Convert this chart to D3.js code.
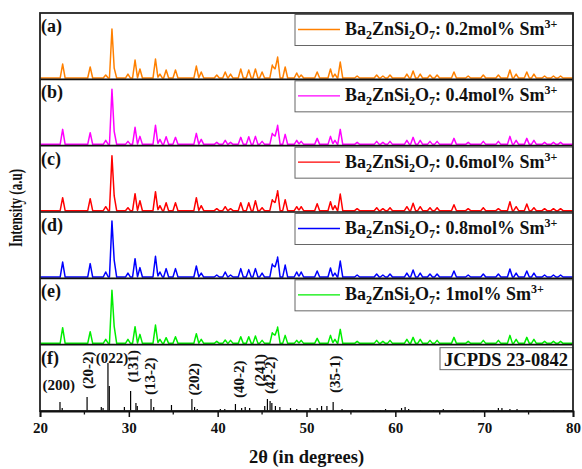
<!DOCTYPE html>
<html><head><meta charset="utf-8">
<script src="https://cdn.jsdelivr.net/npm/d3@7"></script>
<style>
html,body{margin:0;padding:0;background:#fff;}
svg{display:block;font-family:"Liberation Serif","Times New Roman",serif;font-weight:bold;}
</style></head>
<body>
<svg id="chart" width="582" height="469"></svg>
<script>
// ---------- data ----------
const xTicks = [20, 30, 40, 50, 60, 70, 80];
const xMinorTicks = [25, 35, 45, 55, 65, 75];
const panelLabels = ["(a)", "(b)", "(c)", "(d)", "(e)", "(f)"];
const seriesConc = ["0.2", "0.4", "0.6", "0.8", "1"];

const peakPos = [22.55, 25.65, 27.4, 28.1, 28.35, 29.9, 30.7, 31.25, 33.0, 33.5, 34.2, 35.25, 37.6, 38.15, 39.9, 40.85, 41.45, 42.6, 43.5, 44.25, 45.0, 46.15, 46.45, 46.75, 47.6, 48.9, 49.4, 51.2, 52.7, 53.2, 53.8, 55.7, 57.9, 58.6, 59.4, 61.3, 62.0, 62.8, 63.9, 64.7, 66.6, 68.2, 69.9, 71.6, 72.9, 73.6, 74.8, 75.6, 76.8, 77.8, 78.6];

const intensityA = [14, 11, 3, 49, 10, 4, 18, 9, 19, 4, 8, 8, 12, 6, 3, 6, 4, 9, 8, 9, 6, 13, 10, 21, 11, 5, 3, 6, 9, 4, 16, 2, 3, 2, 3, 4, 7, 4, 3, 3, 6, 2, 3, 3, 8, 4, 6, 4, 2, 2, 2];
const intensityB = [15, 11.6, 4, 55, 13, 3, 17, 8, 19, 5, 7.6, 7, 11, 5, 2, 4, 2, 7, 7.6, 8, 3, 11, 9, 19, 10, 4, 3, 6, 8, 4, 15, 2, 3, 2, 3, 4, 7, 4, 3, 3, 6, 2, 3, 3, 8, 4, 6, 4, 2, 2, 2];
const intensityC = [13, 12, 4, 55, 15, 3, 17, 10, 19, 5, 8, 8, 13, 5, 2, 4, 2, 8, 8, 10, 3, 11, 9, 20, 11, 4, 4, 7, 9, 5, 16.7, 2, 3, 2, 3, 4, 7.5, 4, 3, 3, 6, 2, 3, 2, 9, 4, 6.7, 3, 2, 2, 2];
const intensityD = [15, 13.4, 5, 56, 17, 4, 18.4, 9.4, 20.7, 5, 8.4, 8.4, 11, 4, 2, 5, 2, 8.4, 7.4, 8.4, 4, 13, 11, 20, 12, 5, 5, 6, 9, 4, 16, 2, 3, 2, 3, 4, 7, 4, 3, 3, 6, 2, 3, 3, 8, 4, 6, 4, 2, 2, 2];
const intensityE = [15.7, 11.7, 4, 53, 17, 4, 16.7, 9, 18.3, 4, 5.7, 6.7, 9.7, 4, 2, 3.3, 3, 6.7, 6.7, 7.3, 3, 10.7, 9, 16.3, 8, 3, 3, 5, 8, 4, 14, 2, 3, 2, 3, 4, 6, 4, 3, 3, 6, 2, 3, 3, 8, 4, 6, 4, 2, 2, 2];

const jcpdsPos = [22.25, 22.5, 25.3, 26.9, 27.1, 27.65, 27.8, 29.5, 30.2, 30.8, 30.95, 32.5, 32.8, 34.8, 37.1, 37.4, 37.7, 40.3, 40.8, 42.0, 42.7, 43.1, 43.6, 45.3, 45.6, 45.9, 46.1, 46.5, 47.0, 48.2, 48.9, 50.4, 51.2, 51.7, 52.3, 53.0, 54.0, 55.3, 57.5, 58.3, 58.9, 60.7, 61.1, 61.5, 62.8, 64.3, 65.4, 66.9, 68.8, 70.3, 71.6, 72.0, 72.9, 73.7, 74.8, 76.3, 77.8, 79.0];
const jcpdsInt = [9, 3, 14, 4, 3, 48, 25, 4, 20, 8, 5, 12, 4, 6, 12, 4, 2, 2, 2, 7, 3, 4, 3, 5, 12, 10, 8, 5, 4, 3, 2, 3, 3, 5, 5, 9, 2, 1, 1, 1, 2, 3, 4, 2, 1, 1, 2, 1, 1, 1, 3, 3, 2, 2, 1, 1, 1, 1];

const hklLabels = ["(200)", "(20-2)", "(022)", "(131)", "(13-2)", "(202)", "(40-2)", "(241)", "(42-2)", "(35-1)"];
const hklPos = [22.1, 25.4, 28.1, 30.47, 32.38, 37.34, 42.35, 44.77, 45.9, 53.2];

// ---------- layout ----------
const svg = d3.select("#chart");
const L = 40, R = 573, T = 13, B = 411;
const nPanels = 6;
const ph = (B - T) / nPanels;
const x = d3.scaleLinear().domain([20, 80]).range([L, R]);
const colors = ["#FF8000", "#FF00FF", "#FF0000", "#0000FF", "#00EE00"];
const allSeries = [intensityA, intensityB, intensityC, intensityD, intensityE];
const base = 1.3;

function buildTrace(heights) {
  const w = 0.28;
  const xs = new Set([20, 80]);
  peakPos.forEach(p => { xs.add(+(p - w).toFixed(3)); xs.add(p); xs.add(+(p + w).toFixed(3)); });
  const sorted = [...xs].filter(v => v >= 20 && v <= 80).sort((a, b) => a - b);
  return sorted.map(v => {
    let yv = base;
    peakPos.forEach((p, i) => {
      const t = 1 - Math.abs(v - p) / w;
      if (t > 0) yv = Math.max(yv, base + heights[i] * t);
    });
    return [v, yv];
  });
}

function subText(t, conc) {
  t.append("tspan").text("Ba");
  t.append("tspan").attr("font-size", 12).attr("dy", 4).text("2");
  t.append("tspan").attr("dy", -4).text("ZnSi");
  t.append("tspan").attr("font-size", 12).attr("dy", 4).text("2");
  t.append("tspan").attr("dy", -4).text("O");
  t.append("tspan").attr("font-size", 12).attr("dy", 4).text("7");
  t.append("tspan").attr("dy", -4).text(": " + conc + "mol% Sm");
  t.append("tspan").attr("font-size", 12).attr("dy", -7).text("3+");
}

for (let i = 0; i < nPanels; i++) {
  const top = T + i * ph, bot = top + ph;
  const y = d3.scaleLinear().domain([0, ph]).range([bot, top]);
  const g = svg.append("g");
  if (i < 5) {
    const data = buildTrace(allSeries[i]);
    g.append("path").datum(data)
      .attr("fill", "none").attr("stroke", colors[i]).attr("stroke-width", 1.5)
      .attr("stroke-linejoin", "round")
      .attr("d", d3.line().x(d => x(d[0])).y(d => y(d[1])));
    g.append("rect").attr("x", 295).attr("y", top + 1.5).attr("width", R - 295).attr("height", 31)
      .attr("fill", "#fff").attr("stroke", "#666").attr("stroke-width", 1);
    g.append("line").attr("x1", 298).attr("x2", 340).attr("y1", top + 16.5).attr("y2", top + 16.5)
      .attr("stroke", colors[i]).attr("stroke-width", 1.4);
    const txt = g.append("text").attr("x", 345).attr("y", top + 22).attr("font-size", 18).attr("fill", "#111");
    subText(txt, seriesConc[i]);
  } else {
    g.selectAll("line.stick").data(jcpdsPos).enter().append("line")
      .attr("x1", d => x(d)).attr("x2", d => x(d))
      .attr("y1", y(0)).attr("y2", (d, k) => y(jcpdsInt[k]))
      .attr("stroke", "#000").attr("stroke-width", 1.2);
    g.append("rect").attr("x", 440).attr("y", top + 3).attr("width", R - 440).attr("height", 22)
      .attr("fill", "#fff").attr("stroke", "#666").attr("stroke-width", 1);
    g.append("text").attr("x", 506).attr("y", top + 21).attr("text-anchor", "middle")
      .attr("font-size", 18.5).attr("fill", "#111").text("JCPDS 23-0842");
    // hkl label layout: [rotated, yCenterOffsetFromPanelTop]
    const hklLayout = [[0, 40.5], [1, 25.5], [0, 13.5], [1, 21.5], [1, 31.5], [1, 34.5], [1, 34.5], [1, 25.5], [1, 30.5], [1, 29.5]];
    hklLabels.forEach((lab, k) => {
      const cx = x(hklPos[k]), cy = top + hklLayout[k][1];
      const t = g.append("text").attr("font-size", 15).attr("fill", "#111")
        .attr("text-anchor", "middle").attr("dy", "0.35em").text(lab);
      if (hklLayout[k][0]) t.attr("transform", `translate(${cx},${cy}) rotate(-90)`);
      else t.attr("x", cx).attr("y", cy);
    });
  }
  g.append("text").attr("x", 41).attr("y", top + 19).attr("font-size", 18).attr("fill", "#111").text(panelLabels[i]);
  if (i > 0) {
    svg.append("line").attr("x1", L).attr("x2", R).attr("y1", top).attr("y2", top)
      .attr("stroke", "#111").attr("stroke-width", 1.6);
  }
}

svg.append("rect").attr("x", L).attr("y", T).attr("width", R - L).attr("height", B - T)
  .attr("fill", "none").attr("stroke", "#222").attr("stroke-width", 1.8);

const ax = svg.append("g").attr("transform", `translate(0,${B})`)
  .call(d3.axisBottom(x).tickValues(xTicks).tickSize(6).tickPadding(5).tickFormat(d3.format("d")));
ax.select(".domain").attr("stroke", "#111").attr("stroke-width", 1.8);
ax.selectAll(".tick line").attr("stroke", "#111").attr("stroke-width", 1.5);
ax.selectAll(".tick text").attr("font-size", 15).attr("font-family", "Liberation Serif").attr("font-weight", "bold").attr("fill", "#111");
svg.append("g").attr("transform", `translate(0,${B})`)
  .selectAll("line").data(xMinorTicks).enter().append("line")
  .attr("x1", d => x(d)).attr("x2", d => x(d)).attr("y1", 0).attr("y2", 3.5)
  .attr("stroke", "#111").attr("stroke-width", 1.3);

svg.append("text").attr("x", (L + R) / 2).attr("y", 463).attr("text-anchor", "middle")
  .attr("font-size", 18.5).attr("fill", "#111").text("2θ (in degrees)");
svg.append("text").attr("transform", `translate(22,208) rotate(-90)`)
  .attr("text-anchor", "middle").attr("font-size", 18)
  .attr("textLength", 78).attr("lengthAdjust", "spacingAndGlyphs")
  .attr("fill", "#111").text("Intensity (a.u)");
</script>
</body></html>
